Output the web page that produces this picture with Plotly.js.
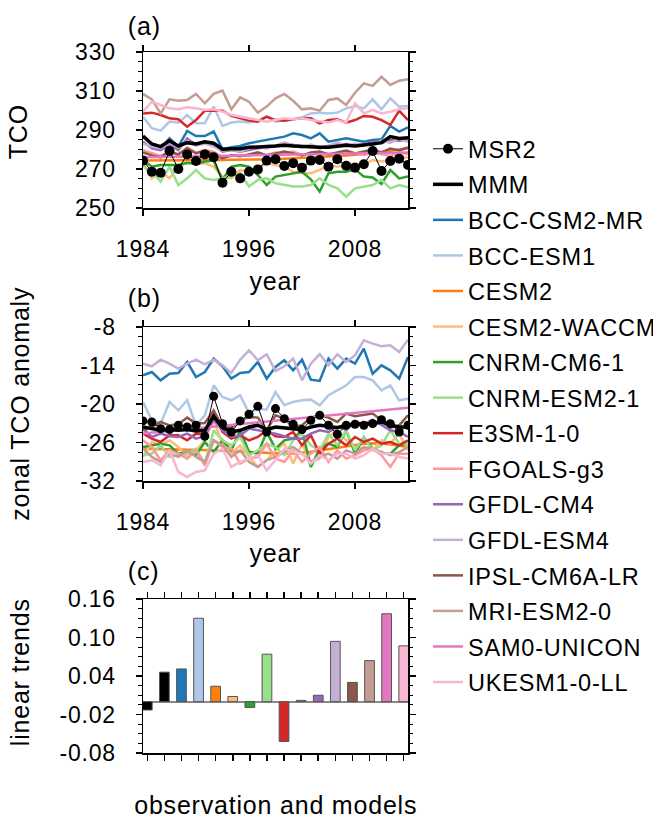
<!DOCTYPE html>
<html>
<head>
<meta charset="utf-8">
<script src="https://cdn.plot.ly/plotly-3.0.1.min.js"></script>
<style>
html,body{margin:0;padding:0;background:#fff;}
#chart{width:661px;height:820px;}
#chart svg text{letter-spacing:0.8px;}
</style>
</head>
<body>
<div id="chart"></div>
<script>
// ---------------- DATA ----------------
const years = [1984,1985,1986,1987,1988,1989,1990,1991,1992,1993,1994,1995,1996,1997,1998,1999,2000,2001,2002,2003,2004,2005,2006,2007,2008,2009,2010,2011,2012,2013,2014];
const lineEnds = [1984, 2014];
const yearTicks = [1984, 1996, 2008];
const yearTickText = ["1984", "1996", "2008"];
const tcoTicks = [250, 270, 290, 310, 330];
const tcoTickText = ["250", "270", "290", "310", "330"];
const anomTicks = [-32, -26, -20, -14, -8];
const anomTickText = ["-32", "-26", "-20", "-14", "-8"];
const trendTicks = [-0.08, -0.02, 0.04, 0.10, 0.16];
const trendTickText = ["-0.08", "-0.02", "0.04", "0.10", "0.16"];

const names = ["MSR2","MMM","BCC-CSM2-MR","BCC-ESM1","CESM2","CESM2-WACCM","CNRM-CM6-1","CNRM-ESM2-1","E3SM-1-0","FGOALS-g3","GFDL-CM4","GFDL-ESM4","IPSL-CM6A-LR","MRI-ESM2-0","SAM0-UNICON","UKESM1-0-LL"];
const colors = ["#000000","#000000","#1f77b4","#aec7e8","#ff7f0e","#ffbb78","#2ca02c","#98df8a","#d62728","#ff9896","#9467bd","#c5b0d5","#8c564b","#c49c94","#e377c2","#f7b6d2"];

// (a) TCO
const tco_MSR2 = [274.3,268.6,268.1,279.2,270.0,277.5,274.1,277.5,276.0,263.0,268.6,265.2,268.6,269.8,274.3,275.0,271.5,273.0,270.7,274.3,274.6,271.2,275.0,271.7,270.7,272.4,279.2,269.0,274.1,275.3,272.1];
const tco_MMM = [286.9,282.8,281.5,284.5,281.8,283.5,282.8,284.0,283.2,280.1,280.4,280.4,281.1,281.1,281.5,281.8,282.2,281.8,281.5,281.5,281.1,281.1,281.8,282.2,281.8,282.2,282.8,283.5,286.6,285.7,286.0];
const tco_BCC_CSM2_MR = [286.6,282.8,280.6,285.7,281.5,289.5,286.9,286.9,289.2,280.1,281.1,281.8,283.2,284.0,284.9,285.7,286.6,288.3,287.4,285.7,288.3,284.0,284.9,285.7,284.9,284.0,284.9,285.2,292.1,289.2,291.4];
const tco_BCC_ESM1 = [296.8,290.9,289.7,294.3,293.8,297.7,293.4,293.4,302.0,292.1,293.8,294.3,293.8,294.8,296.8,294.3,295.1,295.5,296.5,298.5,298.9,298.5,298.9,301.1,302.3,301.1,305.7,300.6,306.2,302.0,302.3];
const tco_CESM2 = [274.3,274.3,274.4,274.4,274.5,274.5,274.5,274.6,274.6,274.6,274.7,274.7,274.8,274.8,274.9,275.0,275.2,275.4,275.6,275.8,276.0,276.3,276.6,276.9,277.3,277.7,278.1,278.7,279.3,279.9,280.6];
const tco_CESM2_WACCM = [272.9,265.2,268.6,265.2,271.2,273.2,272.6,272.9,271.2,266.1,265.2,269.5,268.6,270.3,272.9,272.1,271.2,268.6,267.8,267.8,269.5,272.1,271.2,272.1,272.9,272.1,274.6,273.8,274.6,275.5,276.0];
const tco_CNRM_CM6_1 = [274.6,271.2,272.1,272.1,272.1,273.2,272.6,273.8,274.3,264.4,271.2,272.1,271.2,266.9,261.8,266.1,266.9,267.8,268.6,264.7,258.4,267.8,268.6,268.6,269.8,266.1,265.7,262.3,269.5,265.2,266.1];
const tco_CNRM_ESM2_1 = [271.2,268.6,263.5,271.2,261.8,265.2,269.5,265.2,264.4,265.2,266.1,267.8,261.0,264.4,265.2,262.7,261.8,261.0,261.0,261.8,265.2,261.8,260.1,255.8,260.1,261.0,261.8,264.4,260.1,261.8,260.6];
const tco_E3SM_1_0 = [298.5,298.9,297.7,296.0,295.5,291.7,295.1,299.9,299.9,299.9,297.2,296.0,294.8,294.3,296.8,295.1,294.8,295.5,296.0,296.0,293.4,295.1,295.5,293.8,295.1,297.2,296.8,295.1,292.6,299.9,295.1];
const tco_FGOALS_g3 = [279.7,278.0,276.7,278.9,277.2,281.1,278.4,279.7,278.9,276.0,276.7,277.2,276.7,278.0,277.2,278.4,278.0,278.9,277.2,278.0,278.4,277.7,278.0,278.9,278.0,277.2,278.4,277.7,276.7,278.4,277.7];
const tco_GFDL_CM4 = [284.0,280.6,279.7,282.3,279.7,285.7,282.3,284.0,282.3,278.9,279.7,278.9,279.7,280.6,281.1,281.8,283.2,282.3,281.5,281.8,280.6,281.8,282.3,282.8,281.8,282.3,284.0,283.2,284.9,284.5,285.2];
const tco_GFDL_ESM4 = [283.0,281.5,280.5,283.5,281.0,284.5,282.0,283.0,281.5,279.5,280.0,279.0,280.5,281.5,280.5,282.0,283.5,282.0,281.0,282.5,281.0,282.0,283.5,282.0,283.0,282.5,283.0,284.5,283.5,285.5,284.0];
const tco_IPSL_CM6A_LR = [278.5,277.0,276.0,279.0,277.5,280.5,278.0,279.5,277.5,275.5,277.0,276.5,277.5,278.5,277.0,278.0,279.0,278.0,277.0,278.5,279.0,277.5,278.5,279.5,278.0,279.0,280.0,278.5,280.5,279.5,281.0];
const tco_MRI_ESM2_0 = [308.5,305.7,298.5,305.7,305.0,305.4,308.5,303.7,308.5,310.2,300.6,306.7,304.5,298.9,302.0,306.2,308.5,305.0,300.6,301.1,299.9,305.4,306.2,302.8,309.1,313.9,312.6,317.3,313.1,315.3,316.0];
const tco_SAM0_UNICON = [276.0, 278.5];
const tco_UKESM1_0_LL = [299.4,304.5,302.8,301.1,300.6,301.6,301.1,300.3,300.6,299.4,297.7,296.8,296.0,295.1,294.3,295.1,296.0,295.5,296.0,295.1,294.3,293.8,295.1,293.8,303.7,298.5,300.3,298.5,299.4,300.6,301.1];

// (b) zonal TCO anomaly
const anom_MSR2 = [-22.64,-22.80,-23.84,-23.99,-23.32,-23.58,-23.32,-25.03,-18.80,-23.06,-24.36,-22.64,-21.60,-20.36,-24.36,-20.72,-22.28,-23.16,-23.99,-22.54,-21.76,-23.32,-24.72,-23.32,-23.16,-23.32,-23.06,-22.44,-23.06,-24.36,-23.32];
const anom_MMM = [-23.58,-23.84,-24.10,-23.99,-24.10,-23.99,-24.20,-24.10,-21.92,-23.68,-24.36,-24.10,-23.58,-23.32,-23.99,-23.58,-23.68,-23.84,-23.99,-23.58,-23.32,-23.47,-23.68,-23.32,-23.16,-23.06,-23.06,-22.80,-23.32,-23.58,-23.58];
const anom_BCC_CSM2_MR = [-15.53,-15.01,-16.31,-15.27,-15.16,-13.45,-15.79,-15.01,-12.93,-14.12,-16.05,-15.16,-15.01,-13.45,-16.05,-14.23,-13.19,-14.75,-13.09,-16.20,-16.41,-12.93,-14.49,-12.93,-13.71,-11.37,-15.27,-13.97,-14.75,-16.05,-12.67];
const anom_BCC_ESM1 = [-19.68,-22.54,-23.06,-19.68,-20.98,-19.42,-23.32,-21.76,-17.09,-18.90,-19.42,-18.64,-21.40,-20.72,-20.88,-18.12,-20.20,-19.68,-19.42,-19.32,-20.20,-18.64,-17.87,-17.09,-15.79,-15.79,-16.31,-17.87,-17.09,-19.42,-19.16];
const anom_CESM2 = [-26.96,-26.98,-27.00,-27.05,-27.10,-27.13,-27.17,-27.20,-27.22,-27.28,-27.35,-27.42,-27.50,-27.58,-27.65,-27.70,-27.74,-27.72,-27.62,-27.45,-27.25,-27.02,-26.78,-26.55,-26.35,-26.20,-26.12,-26.15,-26.30,-26.50,-26.70];
const anom_CESM2_WACCM = [-28.25,-25.92,-26.44,-25.66,-26.70,-28.25,-27.22,-25.66,-22.54,-26.18,-27.74,-26.44,-28.25,-29.81,-28.77,-27.22,-26.18,-29.29,-26.18,-29.03,-28.51,-25.14,-24.10,-25.66,-26.70,-26.96,-27.22,-25.66,-26.18,-24.62,-27.22];
const anom_CNRM_CM6_1 = [-26.70,-26.44,-26.18,-26.44,-27.74,-27.48,-27.99,-25.92,-27.48,-25.66,-27.22,-24.10,-27.48,-27.74,-24.36,-26.96,-25.66,-25.40,-24.10,-29.81,-26.96,-26.18,-26.70,-24.10,-27.74,-25.14,-26.96,-27.74,-27.74,-26.44,-26.18];
const anom_CNRM_ESM2_1 = [-27.99,-27.74,-26.44,-28.25,-27.99,-27.74,-26.96,-29.29,-24.10,-25.66,-26.44,-25.14,-27.99,-27.22,-26.18,-26.70,-27.99,-25.66,-24.62,-26.44,-27.22,-24.62,-26.44,-24.10,-27.22,-25.14,-27.22,-26.44,-24.10,-26.18,-26.18];
const anom_E3SM_1_0 = [-24.62,-25.40,-25.92,-24.88,-24.88,-25.66,-24.62,-24.72,-21.24,-24.36,-25.40,-24.88,-25.66,-25.14,-24.10,-25.03,-25.14,-24.36,-26.44,-24.88,-27.74,-26.18,-25.40,-26.44,-25.14,-25.92,-25.40,-26.18,-25.92,-26.44,-25.66];
const anom_FGOALS_g3 = [-25.66,-26.70,-28.77,-27.22,-27.74,-28.51,-27.22,-29.55,-25.66,-26.70,-26.96,-29.29,-28.51,-28.25,-26.18,-28.51,-29.03,-27.22,-29.03,-27.74,-26.70,-29.03,-27.22,-28.51,-27.99,-27.22,-26.96,-27.99,-29.81,-27.74,-27.74];
const anom_GFDL_CM4 = [-23.84,-25.14,-24.62,-25.03,-25.14,-24.62,-25.40,-25.03,-22.44,-24.10,-25.14,-24.88,-23.84,-24.10,-24.36,-24.62,-25.03,-25.40,-25.40,-24.62,-24.10,-24.36,-23.58,-23.99,-22.80,-23.16,-22.44,-23.32,-24.10,-24.36,-25.14];
const anom_GFDL_ESM4 = [-13.71,-14.12,-13.09,-13.71,-14.49,-13.71,-13.09,-13.81,-13.09,-13.97,-15.16,-13.09,-11.63,-13.19,-12.25,-14.85,-14.12,-12.93,-16.31,-13.71,-12.25,-13.97,-12.25,-13.45,-12.41,-10.07,-10.59,-11.01,-10.85,-11.89,-9.97];
const anom_IPSL_CM6A_LR = [-24.10,-23.58,-22.80,-23.32,-23.16,-22.12,-23.06,-22.96,-20.98,-23.58,-23.68,-22.64,-22.02,-22.12,-24.10,-21.76,-22.28,-23.58,-23.32,-22.12,-21.76,-22.12,-22.80,-21.50,-21.92,-21.76,-21.50,-22.54,-23.68,-23.32,-21.76];
const anom_MRI_ESM2_0 = [-26.96,-28.25,-29.03,-27.74,-28.25,-27.22,-28.25,-29.03,-25.66,-26.44,-28.25,-27.22,-29.03,-29.81,-28.77,-28.25,-27.48,-26.70,-27.74,-29.03,-28.25,-27.74,-28.51,-27.22,-27.74,-26.70,-26.96,-27.48,-27.99,-27.48,-26.70];
const anom_SAM0_UNICON = [-24.6, -20.6];
const anom_UKESM1_0_LL = [-29.03,-28.77,-29.55,-27.22,-30.59,-31.37,-30.59,-30.33,-27.74,-26.96,-29.81,-29.03,-28.51,-27.99,-30.33,-28.77,-26.96,-27.48,-27.74,-29.29,-27.99,-28.77,-27.74,-27.74,-28.51,-27.99,-26.96,-27.74,-27.74,-28.25,-28.51];

// (c) linear trends
const trends = [-0.013,0.046,0.051,0.130,0.024,0.008,-0.009,0.074,-0.062,0.002,0.010,0.094,0.030,0.064,0.137,0.087];

// ---------------- BUILD ----------------
const tcoSeries = [tco_MSR2,tco_MMM,tco_BCC_CSM2_MR,tco_BCC_ESM1,tco_CESM2,tco_CESM2_WACCM,tco_CNRM_CM6_1,tco_CNRM_ESM2_1,tco_E3SM_1_0,tco_FGOALS_g3,tco_GFDL_CM4,tco_GFDL_ESM4,tco_IPSL_CM6A_LR,tco_MRI_ESM2_0,tco_SAM0_UNICON,tco_UKESM1_0_LL];
const anomSeries = [anom_MSR2,anom_MMM,anom_BCC_CSM2_MR,anom_BCC_ESM1,anom_CESM2,anom_CESM2_WACCM,anom_CNRM_CM6_1,anom_CNRM_ESM2_1,anom_E3SM_1_0,anom_FGOALS_g3,anom_GFDL_CM4,anom_GFDL_ESM4,anom_IPSL_CM6A_LR,anom_MRI_ESM2_0,anom_SAM0_UNICON,anom_UKESM1_0_LL];

const W = 661, H = 820;
const FONT = "Liberation Sans, Arial, Helvetica, sans-serif";
const px = v => v / W;
const py = v => 1 - v / H;

function xFor(arr) { return arr.length === 2 ? lineEnds : years; }

const traces = [];
const order = [];
for (let i = 2; i < names.length; i++) order.push(i);
order.push(1); order.push(0);

order.forEach(i => {
  const isObs = i === 0, isMMM = i === 1;
  const lineW = isObs ? 1 : (isMMM ? 3.5 : 2.5);
  const common = {
    type: 'scatter',
    mode: isObs ? 'lines+markers' : 'lines',
    name: names[i],
    line: {color: colors[i], width: lineW},
    legendrank: i + 1,
    legendgroup: names[i]
  };
  if (isObs) common.marker = {color: '#000', size: 10};
  traces.push(Object.assign({}, common, {x: xFor(tcoSeries[i]), y: tcoSeries[i], xaxis: 'x', yaxis: 'y', showlegend: true}));
  const bTrace = Object.assign({}, common, {x: xFor(anomSeries[i]), y: anomSeries[i], xaxis: 'x2', yaxis: 'y2', showlegend: false});
  if (isObs) bTrace.marker = {color: '#000', size: 9};
  traces.push(bTrace);
});

traces.push({
  type: 'bar', x: names, y: trends, xaxis: 'x3', yaxis: 'y3', showlegend: false,
  width: 0.57,
  marker: {color: colors, line: {color: '#555555', width: 1}}
});

const xDom = [px(143), px(408)];
const baseAxis = {
  showline: true, linecolor: '#000', linewidth: 1.5, mirror: 'ticks',
  ticks: 'outside', ticklen: 6, tickwidth: 1.5, tickcolor: '#000',
  showgrid: false, zeroline: false,
  tickfont: {family: FONT, size: 23, color: '#000'}
};
const yearAxis = (anchor) => Object.assign({}, baseAxis, {
  domain: xDom, anchor: anchor, range: [1984, 2014],
  tickmode: 'array', tickvals: yearTicks, ticktext: yearTickText,
  ticklabelstandoff: 14
});
const minorOf = (t0, dt) => ({tickmode: 'linear', tick0: t0, dtick: dt, ticks: 'outside', ticklen: 3.5, tickwidth: 1, tickcolor: '#000'});

const layout = {
  width: W, height: H,
  margin: {l: 0, r: 0, t: 0, b: 0},
  paper_bgcolor: '#fff', plot_bgcolor: '#fff',
  font: {family: FONT, color: '#000'},
  showlegend: true,
  legend: {
    x: px(428), xanchor: 'left', y: py(127), yanchor: 'top',
    font: {family: FONT, size: 23.5, color: '#000'},
    bgcolor: 'rgba(0,0,0,0)', borderwidth: 0,
    itemwidth: 30, tracegroupgap: 2, traceorder: 'grouped'
  },
  xaxis: yearAxis('y'),
  yaxis: Object.assign({}, baseAxis, {
    domain: [py(208), py(52)], anchor: 'x', range: [250, 330],
    tickmode: 'array', tickvals: tcoTicks, ticktext: tcoTickText,
    minor: minorOf(250, 5), ticklabelstandoff: 15
  }),
  xaxis2: yearAxis('y2'),
  yaxis2: Object.assign({}, baseAxis, {
    domain: [py(481), py(327)], anchor: 'x2', range: [-32, -8],
    tickmode: 'array', tickvals: anomTicks, ticktext: anomTickText,
    minor: minorOf(-32, 1.5), ticklabelstandoff: 15
  }),
  xaxis3: Object.assign({}, baseAxis, {
    domain: xDom, anchor: 'y3', type: 'category', range: [-0.25, 15.25],
    showticklabels: false
  }),
  yaxis3: Object.assign({}, baseAxis, {
    domain: [py(753), py(599)], anchor: 'x3', range: [-0.08, 0.16],
    tickmode: 'array', tickvals: trendTicks, ticktext: trendTickText,
    minor: minorOf(-0.08, 0.015), ticklabelstandoff: 15,
    zeroline: true, zerolinecolor: '#8a8a8a', zerolinewidth: 2
  }),
  annotations: [
    {text: '(a)', x: px(127), y: py(26), xanchor: 'left', size: 25},
    {text: '(b)', x: px(127), y: py(298), xanchor: 'left', size: 25},
    {text: '(c)', x: px(127), y: py(571), xanchor: 'left', size: 25},
    {text: 'TCO', x: px(18), y: py(132), textangle: -90},
    {text: 'zonal TCO anomaly', x: px(20), y: py(404), textangle: -90},
    {text: 'linear trends', x: px(20), y: py(672), textangle: -90},
    {text: 'year', x: px(275.5), y: py(281)},
    {text: 'year', x: px(275.5), y: py(553)},
    {text: 'observation and models', x: px(275.5), y: py(805)}
  ].map(a => {
    const sz = a.size || 25; delete a.size;
    return Object.assign({xref: 'paper', yref: 'paper', showarrow: false, yanchor: 'middle', xanchor: a.xanchor || 'center', font: {family: FONT, size: sz, color: '#000'}}, a);
  })
};

Plotly.newPlot('chart', traces, layout, {staticPlot: true, displayModeBar: false});
</script>
</body>
</html>
